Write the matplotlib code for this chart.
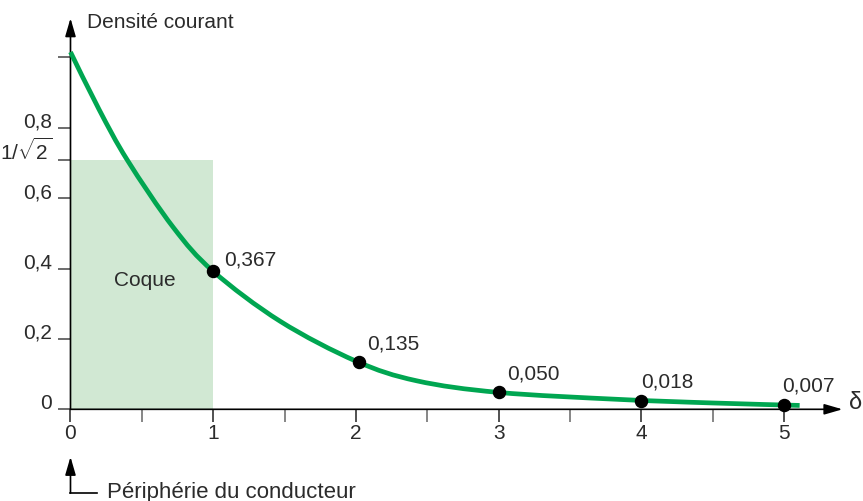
import numpy as np
import matplotlib
matplotlib.use("Agg")
import matplotlib.pyplot as plt
from matplotlib.path import Path
from matplotlib.patches import PathPatch

plt.rcParams['font.family'] = ['Liberation Sans', 'DejaVu Sans']
plt.rcParams['mathtext.fontset'] = 'custom'
plt.rcParams['mathtext.rm'] = 'Liberation Sans'
plt.rcParams['mathtext.it'] = 'Liberation Sans:italic'

# courbe (delta, densité)
curve_x = [0.0, 0.2, 0.4, 0.72, 1.0, 1.47, 2.0, 2.426, 3.0, 3.851, 4.5, 5.11]
curve_y = [1.015, 0.852, 0.707, 0.517, 0.392, 0.250, 0.137, 0.081, 0.048, 0.028, 0.018, 0.011]

# points marqués
dot_x = [1, 2.02, 3, 4, 5]
dot_y = [0.392, 0.133, 0.048, 0.025, 0.012]
dot_labels = ["0,367", "0,135", "0,050", "0,018", "0,007"]
label_offsets = [(8, 8), (6, 13), (6, 13), (0, 13), (-1, 14)]

y_ticks = [0, 0.2, 0.4, 0.6, 1 / np.sqrt(2), 0.8, 1.0]
y_tick_labels = ["0", "0,2", "0,4", "0,6", r"$\mathregular{1/\sqrt{2}}$", "0,8", ""]
x_ticks = [0, 1, 2, 3, 4, 5]
x_minor = [0.5, 1.5, 2.5, 3.5, 4.5]

coque_width = 1
coque_height = 1 / np.sqrt(2)

txt = '#2b2b2b'
green = '#00a651'
fs = 15


def smooth_path(xs, ys):
    # courbe de Bézier passant par les points (Catmull-Rom)
    p = np.column_stack([xs, ys])
    verts = [p[0]]
    codes = [Path.MOVETO]
    for i in range(len(p) - 1):
        p0 = p[i - 1] if i > 0 else p[i]
        p3 = p[i + 2] if i + 2 < len(p) else p[i + 1]
        c1 = p[i] + (p[i + 1] - p0) / 6
        c2 = p[i + 1] - (p3 - p[i]) / 6
        verts += [c1, c2, p[i + 1]]
        codes += [Path.CURVE4] * 3
    return Path(verts, codes)


fig = plt.figure(figsize=(8.63, 5.01), dpi=100)
ax = fig.add_axes([0, 0, 1, 1])
ax.set_xlim(-0.494, 5.554)
ax.set_ylim(-0.2605, 1.1628)

for s in ax.spines.values():
    s.set_visible(False)
ax.spines['left'].set_position(('data', 0))
ax.spines['bottom'].set_position(('data', 0))

# zone "Coque"
ax.bar(0, coque_height, width=coque_width, align='edge', color='#d1e8d3', zorder=1)
ax.text(0.52, 0.365, "Coque", ha='center', va='center', fontsize=fs, color=txt, zorder=2)

# axes avec flèches
arrow = dict(arrowstyle='-|>,head_length=1.1,head_width=0.32', mutation_scale=10,
             color='black', lw=1.2, shrinkA=0, shrinkB=0)
ax.annotate('', xy=(5.41, 0), xytext=(0, 0), arrowprops=arrow, zorder=3)
ax.annotate('', xy=(0, 1.111), xytext=(0, 0), arrowprops=arrow, zorder=3)

ax.add_patch(PathPatch(smooth_path(curve_x, curve_y), fill=False, edgecolor=green,
                       lw=3.4, capstyle='butt', zorder=4))
ax.scatter(dot_x, dot_y, s=75, color='black', zorder=5)
for x, y, lab, off in zip(dot_x, dot_y, dot_labels, label_offsets):
    ax.annotate(lab, (x, y), xytext=off, textcoords='offset points',
                ha='left', va='center', fontsize=fs, color=txt)

ax.set_yticks(y_ticks)
ax.set_yticklabels(y_tick_labels, va='baseline')
ax.set_xticks(x_ticks)
ax.set_xticklabels([str(v) for v in x_ticks])
ax.set_xticks(x_minor, minor=True)
ax.tick_params(axis='y', direction='out', length=9, width=1.1, color='#444',
               pad=4.5, labelsize=fs, labelcolor=txt)
ax.tick_params(axis='x', which='major', direction='out', length=9.5, width=1.1,
               color='#222', pad=1, labelsize=fs, labelcolor=txt)
ax.tick_params(axis='x', which='minor', direction='out', length=9.5, width=1.1,
               color='#666')

ax.text(0.116, 1.098, "Densité courant", ha='left', va='center', fontsize=fs, color=txt)
ax.text(5.505, 0.019, "δ", ha='center', va='center', fontsize=fs + 2, color=txt)

# périphérie du conducteur
ax.annotate('', xy=(0, -0.135), xytext=(0, -0.238), arrowprops=arrow)
ax.plot([0, 0.186], [-0.238, -0.238], color='black', lw=1.2)
ax.text(0.256, -0.235, "Périphérie du conducteur", ha='left', va='center',
        fontsize=16, color=txt)

fig.savefig("out.png", dpi=100)
